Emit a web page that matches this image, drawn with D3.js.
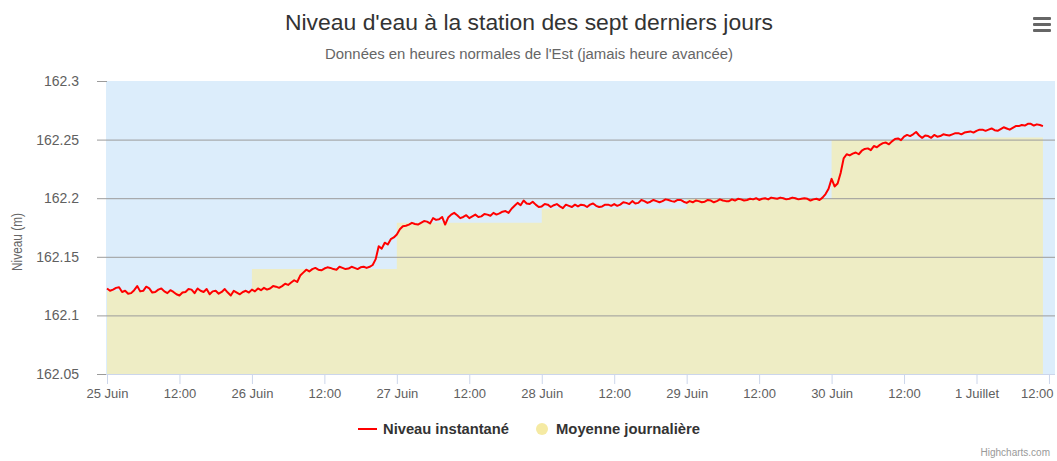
<!DOCTYPE html>
<html>
<head>
<meta charset="utf-8">
<script src="https://cdn.jsdelivr.net/npm/d3@7"></script>
<style>
  body { margin: 0; background: #fff; }
  svg { display: block; font-family: "Liberation Sans", Arial, sans-serif; }
</style>
</head>
<body>
<svg id="chart" width="1057" height="461"></svg>
<script>
// water level readings every 30 min, starting 25 Juin 00:00
var levelStart = new Date(2019, 5, 25, 0, 0);
var levelValues = [
  // 25 Juin
  162.123, 162.121, 162.122, 162.1235, 162.124, 162.120, 162.121, 162.1185, 162.119, 162.1215, 162.125, 162.1205,
  162.121, 162.1245, 162.123, 162.1195, 162.120, 162.122, 162.123, 162.1205, 162.119, 162.1215, 162.120, 162.118,
  162.117, 162.1195, 162.120, 162.1225, 162.122, 162.119, 162.123, 162.121, 162.120, 162.1225, 162.118, 162.1205,
  162.121, 162.1185, 162.120, 162.1225, 162.1195, 162.117, 162.121, 162.1195, 162.118, 162.120, 162.121, 162.1195,
  // 26 Juin
  162.122, 162.1205, 162.123, 162.1215, 162.1235, 162.122, 162.123, 162.125, 162.1245, 162.1235, 162.125, 162.127,
  162.126, 162.128, 162.130, 162.1285, 162.134, 162.1365, 162.139, 162.1375, 162.1395, 162.1405, 162.139, 162.1385,
  162.140, 162.141, 162.1405, 162.1395, 162.139, 162.1415, 162.1405, 162.1395, 162.140, 162.1415, 162.1405, 162.1395,
  162.141, 162.1415, 162.1405, 162.1415, 162.143, 162.148, 162.159, 162.157, 162.162, 162.1605, 162.165, 162.1665,
  // 27 Juin
  162.169, 162.1735, 162.176, 162.1765, 162.1775, 162.179, 162.178, 162.1775, 162.179, 162.1805, 162.180, 162.1785,
  162.183, 162.1815, 162.182, 162.184, 162.1775, 162.1835, 162.186, 162.1875, 162.1855, 162.183, 162.184, 162.1855,
  162.183, 162.1845, 162.186, 162.184, 162.1845, 162.1865, 162.186, 162.185, 162.1875, 162.186, 162.187, 162.1885,
  162.189, 162.1875, 162.191, 162.1935, 162.196, 162.194, 162.198, 162.1955, 162.195, 162.197, 162.1945, 162.1925,
  // 28 Juin
  162.193, 162.195, 162.1945, 162.1925, 162.194, 162.195, 162.193, 162.1915, 162.1945, 162.1935, 162.1925, 162.1945,
  162.193, 162.1945, 162.194, 162.1925, 162.1945, 162.1955, 162.1935, 162.1925, 162.193, 162.1945, 162.1945, 162.1935,
  162.195, 162.1935, 162.1945, 162.1965, 162.196, 162.195, 162.1975, 162.1955, 162.196, 162.1985, 162.1975, 162.196,
  162.197, 162.1985, 162.1975, 162.1965, 162.1975, 162.199, 162.1985, 162.1975, 162.197, 162.1985, 162.1985, 162.197,
  // 29 Juin
  162.196, 162.1975, 162.1965, 162.198, 162.1975, 162.1965, 162.197, 162.1985, 162.198, 162.1965, 162.1975, 162.199,
  162.198, 162.1975, 162.1975, 162.199, 162.198, 162.1995, 162.199, 162.198, 162.1985, 162.1995, 162.199, 162.200,
  162.1985, 162.1995, 162.200, 162.199, 162.2005, 162.200, 162.1995, 162.2005, 162.200, 162.199, 162.1995, 162.2005,
  162.200, 162.199, 162.1995, 162.200, 162.1995, 162.198, 162.199, 162.1995, 162.1985, 162.2005, 162.2035, 162.208,
  // 30 Juin
  162.2165, 162.210, 162.2125, 162.2215, 162.234, 162.2375, 162.2365, 162.238, 162.239, 162.2375, 162.2405, 162.242,
  162.2425, 162.241, 162.2445, 162.2435, 162.2455, 162.247, 162.2475, 162.246, 162.2485, 162.2505, 162.251, 162.2495,
  162.2525, 162.254, 162.253, 162.2545, 162.2565, 162.2535, 162.2515, 162.2535, 162.253, 162.2515, 162.254, 162.2525,
  162.253, 162.2545, 162.254, 162.2535, 162.2545, 162.2555, 162.2555, 162.2545, 162.256, 162.2565, 162.257, 162.256,
  // 1 Juillet
  162.2575, 162.2585, 162.2585, 162.2575, 162.2585, 162.2595, 162.258, 162.2575, 162.259, 162.2605, 162.2595, 162.2585,
  162.260, 162.2615, 162.2615, 162.2625, 162.262, 162.2635, 162.2635, 162.262, 162.263, 162.2625, 162.2615
];

// daily means
var meanDates = ["2019-06-25", "2019-06-26", "2019-06-27", "2019-06-28", "2019-06-29", "2019-06-30", "2019-07-01"];
var meanValues = [162.121, 162.1395, 162.179, 162.191, 162.1995, 162.2497, 162.2518];

var yTicks = [162.05, 162.1, 162.15, 162.2, 162.25, 162.3];
var xTickLabels = ["25 Juin", "12:00", "26 Juin", "12:00", "27 Juin", "12:00", "28 Juin",
  "12:00", "29 Juin", "12:00", "30 Juin", "12:00", "1 Juillet", "12:00"];

var svg = d3.select("#chart");
var plotLeft = 107, plotRight = 1055, plotTop = 81, plotBottom = 374;

var hour = 3600 * 1000;
var parseDay = d3.timeParse("%Y-%m-%d");

var levelData = levelValues.map(function (v, i) {
  return { t: new Date(levelStart.getTime() + i * hour / 2), v: v };
});
var lastTime = levelData[levelData.length - 1].t;

var meanData = meanDates.map(function (d, i) {
  return { t: parseDay(d), v: meanValues[i] };
});
// keep last mean until last reading
meanData.push({ t: lastTime, v: meanValues[meanValues.length - 1] });

var x = d3.scaleTime()
  .domain([levelStart, new Date(levelStart.getTime() + 157 * hour)])
  .range([plotLeft, plotRight]);

var y = d3.scaleLinear()
  .domain([162.05, 162.3])
  .range([plotBottom, plotTop]);

// plot background
svg.append("rect")
  .attr("x", plotLeft - 1)
  .attr("y", plotTop)
  .attr("width", plotRight - plotLeft + 1)
  .attr("height", plotBottom - plotTop)
  .attr("fill", "#dcedfb");

svg.append("clipPath").attr("id", "clip")
  .append("rect")
  .attr("x", plotLeft - 1).attr("y", plotTop)
  .attr("width", plotRight - plotLeft + 1).attr("height", plotBottom - plotTop);

// daily mean step area
var area = d3.area()
  .x(function (d) { return x(d.t); })
  .y0(plotBottom)
  .y1(function (d) { return y(d.v); })
  .curve(d3.curveStepAfter);

svg.append("path")
  .datum(meanData)
  .attr("clip-path", "url(#clip)")
  .attr("d", area)
  .attr("fill", "#eeedc5");

// y axis with grid lines
var yAxis = d3.axisLeft(y)
  .tickValues(yTicks)
  .tickFormat(function (d) { return String(d); })
  .tickSize(-(plotRight - plotLeft + 10))
  .tickPadding(18);

var gy = svg.append("g")
  .attr("transform", "translate(" + (plotLeft - 10) + ",0)")
  .call(yAxis);
gy.select(".domain").remove();
gy.selectAll(".tick line")
  .attr("stroke", "#9b9b9b")
  .attr("stroke-width", 1);
gy.selectAll(".tick text")
  .attr("fill", "#606060")
  .attr("font-size", 14)
  .attr("font-family", "'Liberation Sans', Arial, sans-serif");
gy.selectAll(".tick")
  .filter(function (d) { return d === 162.05 || d === 162.3; })
  .select("line")
  .attr("x2", 10);

// x axis
var xTicks = xTickLabels.map(function (l, i) {
  return new Date(levelStart.getTime() + i * 12 * hour);
});
var xAxis = d3.axisBottom(x)
  .tickValues(xTicks)
  .tickFormat(function (d, i) { return xTickLabels[i]; })
  .tickSize(10)
  .tickPadding(5);

var gx = svg.append("g")
  .attr("transform", "translate(0," + plotBottom + ")")
  .call(xAxis);
gx.select(".domain")
  .attr("d", "M" + (plotLeft - 1) + ",0.5H" + plotRight)
  .attr("stroke", "#ccd6eb");
gx.selectAll(".tick line").attr("stroke", "#ccd6eb");
gx.selectAll(".tick text")
  .attr("fill", "#606060")
  .attr("font-size", 13)
  .attr("font-family", "'Liberation Sans', Arial, sans-serif");
// last label pulled inside like highcharts does
gx.selectAll(".tick text")
  .filter(function (d, i) { return i === xTickLabels.length - 1; })
  .attr("text-anchor", "end")
  .attr("x", 1053 - x(xTicks[xTicks.length - 1]));

// water level line
var line = d3.line()
  .x(function (d) { return x(d.t); })
  .y(function (d) { return y(d.v); });

svg.append("path")
  .datum(levelData)
  .attr("clip-path", "url(#clip)")
  .attr("d", line)
  .attr("fill", "none")
  .attr("stroke", "#ff0000")
  .attr("stroke-width", 2)
  .attr("stroke-linejoin", "round");

// titles
svg.append("text")
  .attr("x", 529).attr("y", 30)
  .attr("text-anchor", "middle")
  .attr("font-size", 22)
  .attr("textLength", 488)
  .attr("lengthAdjust", "spacingAndGlyphs")
  .attr("fill", "#333333")
  .text("Niveau d'eau à la station des sept derniers jours");

svg.append("text")
  .attr("x", 529).attr("y", 59)
  .attr("text-anchor", "middle")
  .attr("font-size", 14)
  .attr("textLength", 408)
  .attr("lengthAdjust", "spacingAndGlyphs")
  .attr("fill", "#666666")
  .text("Données en heures normales de l'Est (jamais heure avancée)");

svg.append("text")
  .attr("transform", "translate(22,242) rotate(-90)")
  .attr("text-anchor", "middle")
  .attr("font-size", 14)
  .attr("textLength", 58)
  .attr("lengthAdjust", "spacingAndGlyphs")
  .attr("fill", "#666666")
  .text("Niveau (m)");

// menu button
[0, 6, 12].forEach(function (dy) {
  svg.append("rect")
    .attr("x", 1033).attr("y", 17 + dy)
    .attr("width", 18).attr("height", 3)
    .attr("rx", 1)
    .attr("fill", "#666666");
});

// legend
var legend = svg.append("g").attr("font-weight", "bold").attr("font-size", 14).attr("fill", "#333333");
legend.append("line")
  .attr("x1", 358).attr("x2", 377).attr("y1", 429).attr("y2", 429)
  .attr("stroke", "#ff0000").attr("stroke-width", 2);
legend.append("text").attr("x", 383).attr("y", 434)
  .attr("textLength", 126).attr("lengthAdjust", "spacingAndGlyphs")
  .text("Niveau instantané");
legend.append("circle")
  .attr("cx", 542).attr("cy", 429).attr("r", 6)
  .attr("fill", "#f5eaa3");
legend.append("text").attr("x", 556).attr("y", 434)
  .attr("textLength", 144).attr("lengthAdjust", "spacingAndGlyphs")
  .text("Moyenne journalière");

svg.append("text")
  .attr("x", 1050).attr("y", 456)
  .attr("text-anchor", "end")
  .attr("font-size", 10)
  .attr("fill", "#999999")
  .text("Highcharts.com");
</script>
</body>
</html>
